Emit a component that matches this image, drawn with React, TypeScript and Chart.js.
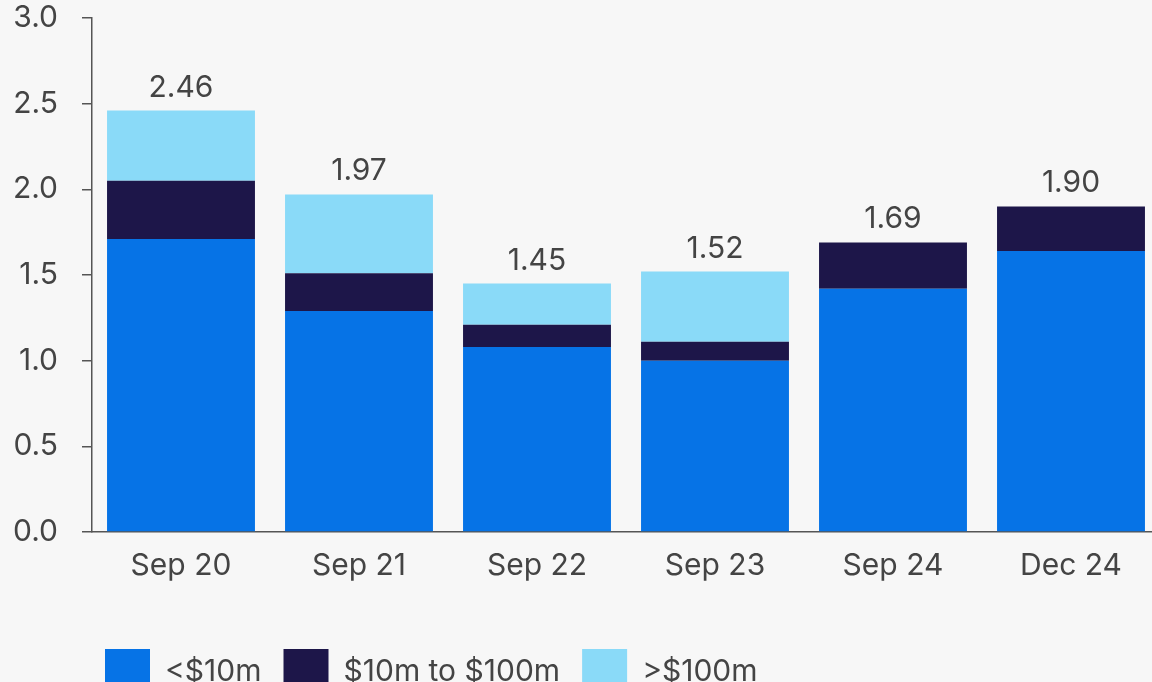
import React, { useEffect, useRef } from "react";
import { Chart, registerables } from "chart.js";

Chart.register(...registerables);

const categories = ["Sep 20", "Sep 21", "Sep 22", "Sep 23", "Sep 24", "Dec 24"];
const under10m = [1.71, 1.29, 1.08, 1.0, 1.42, 1.64];
const from10to100m = [0.34, 0.22, 0.13, 0.11, 0.27, 0.26];
const over100m = [0.41, 0.46, 0.24, 0.41, 0, 0];
const totals = [2.46, 1.97, 1.45, 1.52, 1.69, 1.9];
const seriesNames = ["<$10m", "$10m to $100m", ">$100m"];

const FONT = "Inter, 'Liberation Sans', sans-serif";
const TEXT = "#444444";
const AXIS = "#555555";
const FS = 30;

const totalsPlugin = {
  id: "totals",
  afterDatasetsDraw(chart: any) {
    const { ctx, scales } = chart;
    ctx.save();
    ctx.font = `${FS}px ${FONT}`;
    ctx.fillStyle = TEXT;
    ctx.textAlign = "center";
    ctx.textBaseline = "bottom";
    categories.forEach((_, i) => {
      const sum = under10m[i] + from10to100m[i] + over100m[i];
      const x = scales.x.getPixelForValue(i);
      const y = scales.y.getPixelForValue(sum);
      ctx.fillText(totals[i].toFixed(2), x, y - 8);
    });
    ctx.restore();
  },
};

const legendShift = {
  id: "legendShift",
  beforeDraw(chart: any) {
    if (chart.legend) chart.legend.left = 83;
  },
};

export default function App() {
  const ref = useRef<HTMLCanvasElement | null>(null);

  useEffect(() => {
    const prevMargin = document.body.style.margin;
    document.body.style.margin = "0";
    const chart = new Chart(ref.current as HTMLCanvasElement, {
      type: "bar",
      data: {
        labels: categories,
        datasets: [
          { label: seriesNames[0], data: under10m, backgroundColor: "#0673E6" },
          { label: seriesNames[1], data: from10to100m, backgroundColor: "#1D1649" },
          { label: seriesNames[2], data: over100m, backgroundColor: "#8ADAF8" },
        ],
      },
      options: {
        animation: false,
        responsive: false,
        maintainAspectRatio: false,
        layout: { padding: { top: 18, left: 0, right: 0, bottom: 0 } },
        datasets: { bar: { categoryPercentage: 1, barPercentage: 0.831 } },
        plugins: {
          legend: {
            position: "bottom",
            align: "start",
            labels: {
              boxWidth: 45,
              boxHeight: 45,
              padding: 22,
              color: TEXT,
              font: { family: FONT, size: FS },
            },
          },
          tooltip: { enabled: false },
        },
        scales: {
          x: {
            stacked: true,
            grid: { display: false, drawTicks: false },
            border: { display: true, color: AXIS, width: 1.5 },
            ticks: { color: TEXT, font: { family: FONT, size: FS }, padding: 16 },
            afterFit: (scale: any) => {
              scale.height = 95;
            },
          },
          y: {
            stacked: true,
            min: 0,
            max: 3,
            ticks: {
              stepSize: 0.5,
              color: TEXT,
              padding: 24,
              font: { family: FONT, size: FS },
              callback: (v: any) => Number(v).toFixed(1),
            },
            grid: { drawOnChartArea: false, drawTicks: true, tickLength: 10, color: AXIS, lineWidth: 1.5 },
            border: { display: true, color: AXIS, width: 1.5 },
            afterFit: (scale: any) => {
              scale.width = 92;
              scale.paddingTop = 0;
              scale.paddingBottom = 0;
            },
          },
        },
      },
      plugins: [totalsPlugin, legendShift],
    });
    return () => {
      chart.destroy();
      document.body.style.margin = prevMargin;
    };
  }, []);

  return (
    <div
      style={{
        position: "fixed",
        left: 0,
        top: 0,
        width: 1152,
        height: 682,
        overflow: "hidden",
        background: "#F7F7F7",
      }}
    >
      <canvas ref={ref} width={1160} height={704} style={{ display: "block", width: 1160, height: 704 }} />
    </div>
  );
}
